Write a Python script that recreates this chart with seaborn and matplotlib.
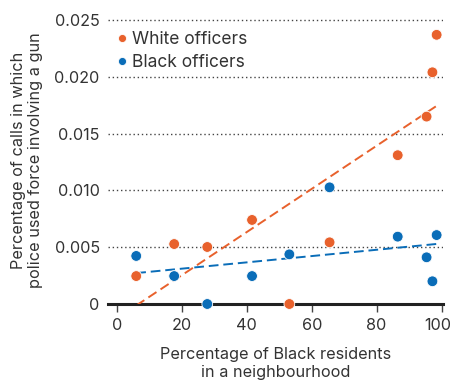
import matplotlib
matplotlib.use("Agg")
import matplotlib.pyplot as plt
import matplotlib.transforms as mtransforms
import numpy as np
import pandas as pd
import seaborn as sns

# Share of Black residents in each neighbourhood (%)
black_residents_pct = [5.9, 17.6, 27.8, 41.6, 53.1, 65.5, 86.5, 95.4, 97.2, 98.5]
# Percentage of calls in which police used force involving a gun
white_officers = [0.00246, 0.00528, 0.00502, 0.00740, 0.0, 0.00543, 0.01310, 0.01650, 0.02040, 0.02370]
black_officers = [0.00423, 0.00246, 0.0, 0.00246, 0.00437, 0.01027, 0.00593, 0.00411, 0.00200, 0.00607]

groups = ["White officers", "Black officers"]
colors = {"White officers": "#E8612C", "Black officers": "#0A6DB8"}

x_ticks = [0, 20, 40, 60, 80, 100]
y_ticks = [0, 0.005, 0.010, 0.015, 0.020, 0.025]
y_tick_labels = ["0", "0.005", "0.010", "0.015", "0.020", "0.025"]

df = pd.DataFrame({
    "black_pct": black_residents_pct * 2,
    "gun_force": white_officers + black_officers,
    "group": [groups[0]] * len(white_officers) + [groups[1]] * len(black_officers),
})

sns.set_theme(style="white")
plt.rcParams["font.family"] = ["Inter", "DejaVu Sans"]
text_color = "#333333"
fs = 11.7

fig = plt.figure(figsize=(4.5, 3.8), dpi=100)
ax = fig.add_axes([0.24, 0.2, 0.744, 0.755])

for g in groups:
    sub = df[df["group"] == g]
    sns.regplot(data=sub, x="black_pct", y="gun_force", scatter=False, ci=None,
                truncate=True, ax=ax,
                line_kws=dict(color=colors[g], lw=1.4, ls=(0, (5, 2.5)), zorder=3))

sns.scatterplot(data=df, x="black_pct", y="gun_force", hue="group", hue_order=groups,
                palette=colors, s=60, edgecolor="white", linewidth=0.6,
                clip_on=False, zorder=4, ax=ax, legend=True)

ax.set_xlim(-2.8, 100.4)
ax.set_ylim(0, 0.02526)

for yv in y_ticks[1:]:
    ax.axhline(yv, color="#444444", lw=1.0, ls=(0, (1, 2)), zorder=1)

for side in ["top", "right", "left"]:
    ax.spines[side].set_visible(False)
ax.spines["bottom"].set_color("#222222")
ax.spines["bottom"].set_linewidth(2.2)
ax.spines["bottom"].set_zorder(2)

ax.set_xticks(x_ticks)
ax.set_xticklabels([str(t) for t in x_ticks])
ax.set_yticks(y_ticks)
ax.set_yticklabels(y_tick_labels)
ax.tick_params(axis="x", length=6, width=1.0, color="#444444", labelsize=fs,
               labelcolor=text_color, pad=4, bottom=True, direction="out")
ax.tick_params(axis="y", length=0, labelsize=fs, labelcolor=text_color, pad=6)

# nudge the right-most tick label so it stays inside the figure edge
last = ax.get_xticklabels()[-1]
last.set_transform(last.get_transform() + mtransforms.ScaledTranslation(-4 / 100, 0, fig.dpi_scale_trans))

ax.set_xlabel("Percentage of Black residents\nin a neighbourhood", fontsize=fs,
              color=text_color, linespacing=1.3, labelpad=10)
ax.set_ylabel("Percentage of calls in which\npolice used force involving a gun",
              fontsize=fs, color=text_color, linespacing=1.2, labelpad=8)

leg = ax.legend(loc="upper left", bbox_to_anchor=(0.0, 0.965), frameon=False,
                fontsize=12.5, handletextpad=0.0, handlelength=1.2, labelspacing=0.35,
                borderaxespad=0.0, borderpad=0.2, markerscale=0.75,
                labelcolor=text_color)

fig.savefig("out.png", dpi=100)
